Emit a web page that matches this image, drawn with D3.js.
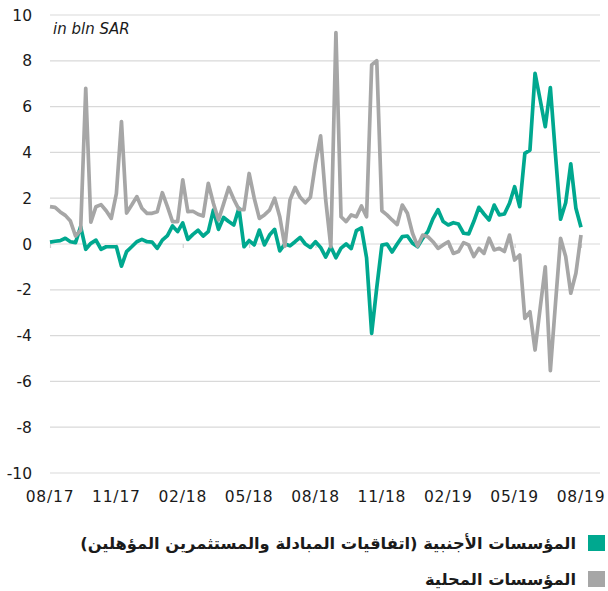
<!DOCTYPE html>
<html>
<head>
<meta charset="utf-8">
<script src="https://cdn.jsdelivr.net/npm/d3@7"></script>
<style>
  html, body { margin: 0; padding: 0; background: #ffffff; }
  svg { display: block; }
</style>
</head>
<body>
<svg id="chart" width="608" height="591"></svg>
<script>
// Weekly net flows, bln SAR (week index 0 = 08/17, 104 = 08/19)
const tickLabels = ["08/17", "11/17", "02/18", "05/18", "08/18", "11/18", "02/19", "05/19", "08/19"];
const tickWeeks  = [0, 13, 26, 39, 52, 65, 78, 91, 104];
const yTicks     = [-10, -8, -6, -4, -2, 0, 2, 4, 6, 8, 10];

const seriesNames = [
  "المؤسسات الأجنبية (اتفاقيات المبادلة والمستثمرين المؤهلين)",
  "المؤسسات المحلية"
];
const seriesColors = ["#00a88f", "#a6a6a6"];

const foreignFlows = [
  0.08, 0.12, 0.15, 0.25, 0.10, 0.06, 0.76, -0.23, 0.03, 0.17,
  -0.23, -0.12, -0.12, -0.12, -0.97, -0.33, -0.12, 0.10, 0.20, 0.10,
  0.08, -0.19, 0.17, 0.37, 0.79, 0.54, 0.92, 0.20, 0.42, 0.60,
  0.35, 0.54, 1.48, 0.64, 1.16, 0.98, 0.83, 1.56, -0.12, 0.15,
  -0.04, 0.61, -0.04, 0.39, 0.64, -0.30, 0.00, -0.08, 0.10, 0.29,
  0.00, -0.15, 0.10, -0.15, -0.57, -0.12, -0.60, -0.18, 0.00, -0.20,
  0.58, 0.70, -0.60, -3.90, -1.90, -0.05, 0.00, -0.35, 0.00, 0.32,
  0.35, 0.03, -0.12, 0.25, 0.54, 1.10, 1.50, 0.98, 0.83, 0.93,
  0.87, 0.47, 0.44, 0.98, 1.60, 1.31, 1.05, 1.70, 1.27, 1.31,
  1.78, 2.50, 1.63, 3.96, 4.10, 7.45, 6.30, 5.12, 6.83, 3.90,
  1.08, 1.80, 3.50, 1.56, 0.73
];

const localFlows = [
  1.63, 1.60, 1.40, 1.25, 1.00, 0.35, 0.60, 6.80, 0.95, 1.63,
  1.72, 1.45, 1.12, 2.20, 5.35, 1.35, 1.70, 2.07, 1.56, 1.34,
  1.34, 1.41, 2.24, 1.63, 0.98, 0.98, 2.80, 1.41, 1.43, 1.30,
  1.22, 2.65, 1.78, 1.05, 1.75, 2.47, 1.95, 1.51, 1.50, 3.08,
  2.00, 1.12, 1.27, 1.48, 2.00, 1.19, -0.10, 1.92, 2.47, 2.04,
  1.80, 2.04, 3.52, 4.72, 1.92, -0.12, 9.23, 1.19, 0.98, 1.27,
  1.19, 1.66, 1.19, 7.82, 8.00, 1.45, 1.27, 1.05, 0.85, 1.70,
  1.34, 0.47, -0.09, 0.39, 0.32, 0.10, -0.19, -0.04, 0.10, -0.41,
  -0.33, 0.06, -0.04, -0.55, -0.19, -0.41, 0.25, -0.26, -0.19, -0.33,
  0.39, -0.70, -0.48, -3.25, -2.96, -4.63, -2.80, -1.00, -5.53, -2.60,
  0.25, -0.55, -2.15, -1.28, 0.39
];

const svg = d3.select("#chart");
const plotLeft = 50, plotRight = 600;

const x = d3.scaleLinear().domain([0, 104]).range([50, 581]);
const y = d3.scaleLinear().domain([-10, 10]).range([473, 15]);

// horizontal gridlines
svg.append("g")
  .selectAll("line")
  .data(yTicks)
  .join("line")
  .attr("x1", plotLeft).attr("x2", plotRight)
  .attr("y1", d => y(d)).attr("y2", d => y(d))
  .attr("stroke", "#d9d9d9").attr("stroke-width", 1.2);

// y-axis labels
svg.append("g")
  .selectAll("text")
  .data(yTicks)
  .join("text")
  .attr("x", 32)
  .attr("y", d => y(d))
  .attr("dy", "0.36em")
  .attr("text-anchor", "end")
  .attr("font-family", "DejaVu Sans")
  .attr("font-size", 15.5)
  .attr("fill", "#1a1a1a")
  .text(d => d);

// x-axis tick marks on the zero line
const xAxis = d3.axisBottom(x)
  .tickValues(tickWeeks)
  .tickFormat((d, i) => tickLabels[i])
  .tickSize(4)
  .tickPadding(0);

const gx = svg.append("g").attr("transform", `translate(0,${y(0)})`).call(xAxis);
gx.select(".domain").remove();
gx.selectAll(".tick line").attr("stroke", "#d0d0d0").attr("stroke-width", 1.2);
gx.selectAll(".tick text").remove();

// x-axis labels along the bottom
svg.append("g")
  .selectAll("text")
  .data(tickWeeks)
  .join("text")
  .attr("x", d => x(d))
  .attr("y", 502)
  .attr("text-anchor", "middle")
  .attr("font-family", "DejaVu Sans")
  .attr("font-size", 15.5)
  .attr("letter-spacing", 0.8)
  .attr("fill", "#1a1a1a")
  .text((d, i) => tickLabels[i]);

// unit note
svg.append("text")
  .attr("x", 53).attr("y", 34)
  .attr("font-family", "DejaVu Sans")
  .attr("font-style", "italic")
  .attr("font-size", 15)
  .attr("fill", "#1a1a1a")
  .text("in bln SAR");

// lines
const line = d3.line().x((d, i) => x(i)).y(d => y(d));
[foreignFlows, localFlows].forEach((vals, k) => {
  svg.append("path")
    .datum(vals)
    .attr("d", line)
    .attr("fill", "none")
    .attr("stroke", seriesColors[k])
    .attr("stroke-width", 3.7)
    .attr("stroke-linejoin", "round");
});

// legend (right-to-left text anchored at its right edge)
const legend = svg.append("g");
seriesNames.forEach((name, k) => {
  const cy = 543 + k * 36;
  legend.append("rect")
    .attr("x", 588).attr("y", cy - 8)
    .attr("width", 17).attr("height", 16)
    .attr("fill", seriesColors[k]);
  legend.append("text")
    .attr("x", 576).attr("y", cy)
    .attr("dy", "0.35em")
    .attr("direction", "rtl")
    .attr("text-anchor", "start")
    .attr("font-family", "DejaVu Sans")
    .attr("font-weight", "bold")
    .attr("font-size", 16.3)
    .attr("fill", "#1a1a1a")
    .text(name);
});
</script>
</body>
</html>
